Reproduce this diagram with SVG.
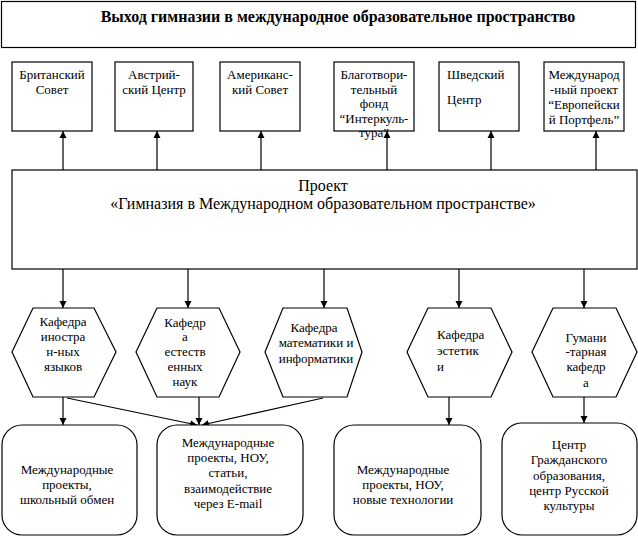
<svg xmlns="http://www.w3.org/2000/svg" width="638" height="536" viewBox="0 0 638 536">
<defs>
<marker id="ah" markerWidth="8" markerHeight="8" refX="7" refY="4" orient="auto" markerUnits="userSpaceOnUse">
<path d="M0,0.5 L7,4 L0,7.5 Z" fill="#000"/>
</marker>
<style>
.b{fill:#fff;stroke:#000;stroke-width:1.2}
.t{font-family:'Liberation Serif','Times New Roman',serif;font-size:13px;fill:#000}
.big{font-size:16px}
.bold{font-weight:bold}
.c{text-anchor:middle}
.ln{fill:none;stroke:#000;stroke-width:1.2;marker-end:url(#ah)}
</style>
</defs>
<rect width="638" height="536" fill="#fff"/>
<g id="title">
<rect class="b" x="1.5" y="1.5" width="634" height="46" stroke-width="1.5"/>
<text class="t c big bold" x="338" y="22">Выход гимназии в международное образовательное пространство</text>
</g>
<g id="connectors">
<line class="ln" x1="63" y1="170" x2="63" y2="131"/>
<line class="ln" x1="157" y1="170" x2="157" y2="131"/>
<line class="ln" x1="261" y1="170" x2="261" y2="131"/>
<line class="ln" x1="387" y1="170" x2="387" y2="131"/>
<line class="ln" x1="491" y1="170" x2="491" y2="131"/>
<line class="ln" x1="596" y1="170" x2="596" y2="131"/>
<line class="ln" x1="63" y1="269" x2="63" y2="308"/>
<line class="ln" x1="188" y1="269" x2="188" y2="308"/>
<line class="ln" x1="324" y1="269" x2="324" y2="308"/>
<line class="ln" x1="459" y1="269" x2="459" y2="308"/>
<line class="ln" x1="584" y1="269" x2="584" y2="308"/>
<line class="ln" x1="63" y1="397" x2="63" y2="425"/>
<line class="ln" x1="199" y1="397" x2="199" y2="425"/>
<line class="ln" x1="67" y1="398" x2="197" y2="425"/>
<line class="ln" x1="323" y1="398" x2="202" y2="425"/>
<line class="ln" x1="449" y1="397" x2="449" y2="425"/>
<line class="ln" x1="584" y1="397" x2="584" y2="423"/>
</g>
<g id="british">
<rect class="b" x="12" y="62" width="80" height="69"/>
<text class="t c" x="52" y="79">Британский</text>
<text class="t c" x="52" y="94">Совет</text>
</g>
<g id="austrian">
<rect class="b" x="115" y="62" width="78" height="69"/>
<text class="t c" x="154" y="79">Австрий-</text>
<text class="t c" x="154" y="94">ский Центр</text>
</g>
<g id="american">
<rect class="b" x="220" y="62" width="80" height="69"/>
<text class="t c" x="260" y="79">Американс-</text>
<text class="t c" x="260" y="94">кий Совет</text>
</g>
<g id="interkultura">
<rect class="b" x="334" y="62" width="80" height="69"/>
<text class="t c" x="374" y="79">Благотвори-</text>
<text class="t c" x="374" y="93.5">тельный</text>
<text class="t c" x="374" y="108">фонд</text>
<text class="t c" x="374" y="122.5">“Интеркуль-</text>
<text class="t c" x="374" y="137">тура”</text>
</g>
<g id="swedish">
<rect class="b" x="439" y="62" width="80" height="69"/>
<text class="t" x="447" y="79">Шведский</text>
<text class="t" x="447" y="104">Центр</text>
</g>
<g id="portfolio">
<rect class="b" x="544" y="62" width="80" height="69"/>
<text class="t c" x="584" y="79">Международ</text>
<text class="t c" x="584" y="94">-ный проект</text>
<text class="t c" x="584" y="109">“Европейски</text>
<text class="t c" x="584" y="124">й Портфель”</text>
</g>
<g id="project">
<rect class="b" x="12" y="170" width="625" height="99"/>
<text class="t c big" x="323" y="191">Проект</text>
<text class="t c big" x="323" y="209">«Гимназия в Международном образовательном пространстве»</text>
</g>
<g id="kaf-lang">
<polygon class="b" points="12,352 33,308 94,308 116,352 94,397 33,397"/>
<text class="t c" x="63" y="326">Кафедра</text>
<text class="t c" x="63" y="341">иностра</text>
<text class="t c" x="63" y="356">н-ных</text>
<text class="t c" x="63" y="371">языков</text>
</g>
<g id="kaf-nat">
<polygon class="b" points="136,352 157,308 219,308 240,352 219,397 157,397"/>
<text class="t c" x="185" y="327">Кафедр</text>
<text class="t c" x="185" y="341">а</text>
<text class="t c" x="185" y="356">естеств</text>
<text class="t c" x="185" y="371">енных</text>
<text class="t c" x="185" y="386">наук</text>
</g>
<g id="kaf-math">
<polygon class="b" points="265,352 283,308 347,308 362,352 347,397 283,397"/>
<text class="t c" x="314" y="332">Кафедра</text>
<text class="t c" x="316" y="347">математики и</text>
<text class="t c" x="316" y="363">информатики</text>
</g>
<g id="kaf-est">
<polygon class="b" points="407,352 428,308 491,308 512,352 491,397 428,397"/>
<text class="t" x="437" y="339">Кафедра</text>
<text class="t" x="437" y="355">эстетик</text>
<text class="t" x="437" y="371">и</text>
</g>
<g id="kaf-hum">
<polygon class="b" points="532,352 553,308 616,308 637,352 616,397 553,397"/>
<text class="t c" x="586" y="342">Гумани</text>
<text class="t c" x="586" y="356">-тарная</text>
<text class="t c" x="586" y="371">кафедр</text>
<text class="t c" x="586" y="387">а</text>
</g>
<g id="res-1">
<rect class="b" x="2" y="425" width="135" height="110" rx="20"/>
<text class="t c" x="67" y="474">Международные</text>
<text class="t c" x="67" y="489">проекты,</text>
<text class="t c" x="67" y="504">школьный обмен</text>
</g>
<g id="res-2">
<rect class="b" x="157" y="425" width="146" height="110" rx="20"/>
<text class="t c" x="228" y="447">Международные</text>
<text class="t c" x="228" y="462">проекты, НОУ,</text>
<text class="t c" x="228" y="477">статьи,</text>
<text class="t c" x="228" y="493">взаимодействие</text>
<text class="t c" x="228" y="508">через E-mail</text>
</g>
<g id="res-3">
<rect class="b" x="334" y="425" width="147" height="110" rx="20"/>
<text class="t c" x="403" y="474">Международные</text>
<text class="t c" x="403" y="489">проекты, НОУ,</text>
<text class="t c" x="403" y="504">новые технологии</text>
</g>
<g id="res-4">
<rect class="b" x="502" y="423" width="135" height="112" rx="20"/>
<text class="t c" x="569" y="449">Центр</text>
<text class="t c" x="569" y="464">Гражданского</text>
<text class="t c" x="569" y="480">образования,</text>
<text class="t c" x="569" y="495">центр Русской</text>
<text class="t c" x="569" y="510">культуры</text>
</g>
</svg>
